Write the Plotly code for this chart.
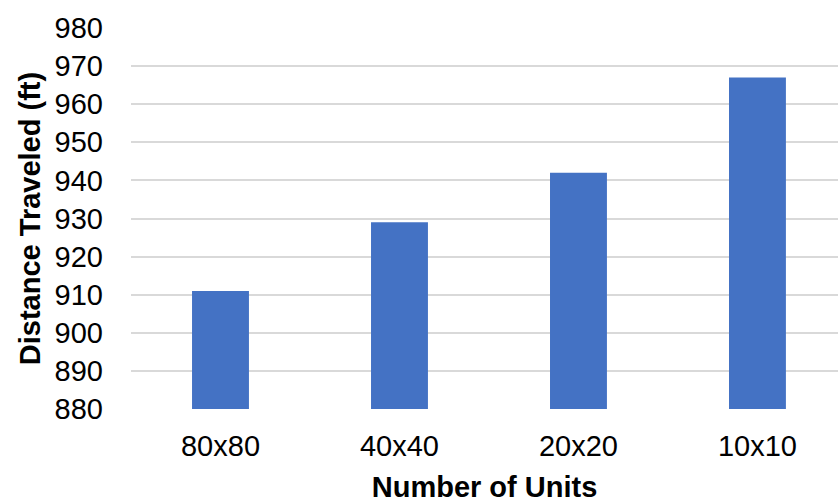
import plotly.graph_objects as go

# Distance traveled for each grid resolution
categories = ["80x80", "40x40", "20x20", "10x10"]
distance_ft = [911, 929, 942, 967]
y_ticks = [880, 890, 900, 910, 920, 930, 940, 950, 960, 970, 980]

FONT = "Liberation Sans, Arial, sans-serif"
BAR_COLOR = "#4472C4"

fig = go.Figure(
    go.Bar(
        x=list(range(len(categories))),
        y=distance_ft,
        width=0.318,
        marker=dict(color=BAR_COLOR, line=dict(width=0)),
        hoverinfo="skip",
    )
)

fig.update_layout(
    width=838,
    height=503,
    margin=dict(l=131, r=0, t=28, b=94),
    paper_bgcolor="white",
    plot_bgcolor="white",
    showlegend=False,
    font=dict(family=FONT, color="black"),
)

fig.update_xaxes(
    tickmode="array",
    tickvals=list(range(len(categories))),
    ticktext=categories,
    range=[-0.5, 3.45],
    showgrid=False,
    showline=False,
    zeroline=False,
    ticks="",
    ticklabelstandoff=17,
    tickfont=dict(size=29, family=FONT, color="black"),
    title=dict(
        text="<b>Number of Units</b>",
        font=dict(size=29, family=FONT, color="black"),
        standoff=19,
    ),
    automargin=False,
)

fig.update_yaxes(
    range=[880, 980],
    tickmode="array",
    tickvals=y_ticks,
    showgrid=True,
    gridcolor="#d9d9d9",
    gridwidth=1.5,
    showline=False,
    zeroline=False,
    ticks="",
    ticklabelstandoff=27,
    tickfont=dict(size=29, family=FONT, color="black"),
    title=dict(
        text="<b>Distance Traveled (ft)</b>",
        font=dict(size=29, family=FONT, color="black"),
        standoff=5,
    ),
    automargin=False,
)

fig.write_html("out.html")
